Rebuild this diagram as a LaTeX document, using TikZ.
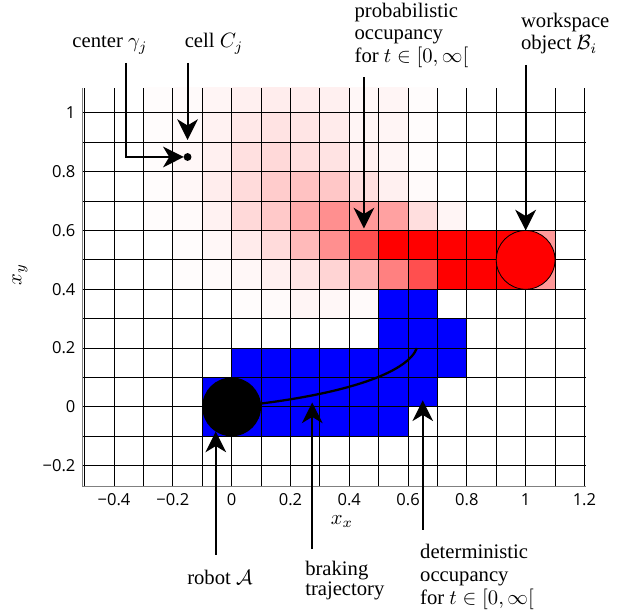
\documentclass[tikz,border=0pt]{standalone}
\usepackage{amssymb,amsmath}
\usepackage{fontspec}
\setmainfont{Liberation Serif}
\newfontfamily\tickfont{Open Sans}
\usetikzlibrary{arrows.meta}

\begin{document}
\begin{tikzpicture}[x=5cm,y=5cm,
  annot/.style={line width=1pt,-{Stealth[length=10pt,width=10pt,inset=3pt]}},
  lbl/.style={inner sep=0pt,font=\fontsize{10}{11.1}\selectfont,align=left},
  ticklbl/.style={inner sep=0pt,font=\tickfont\fontsize{8}{9}\selectfont},
  gridline/.style={line width=0.5pt,black}]
\useasboundingbox (-0.788,-0.704) rectangle (1.338,1.384);
% probabilistic occupancy (red shades), columns from -0.3
\begin{scope}
\clip (-0.508,-0.271) rectangle (1.207,1.085);
\foreach \yy/\vals in {
  1.0/{1,2,4,6,7,7,6,3,4,1},
  0.9/{1,2,5,9,11,10,8,4,4,1},
  0.8/{1,3,6,12,15,13,11,6,4,1},
  0.7/{1,3,7,14,20,24,22,12,6,2},
  0.6/{1,2,5,15,21,33,44,40,37,13,4},
  0.5/{0,1,3,8,14,27,44,69,100,100,100,100,100,40},
  0.4/{0,1,2,3,6,10,17,29,50,69,100,100,100,40},
  0.3/{0,0,0,1,2,4,3,2}}
  \foreach \p [count=\i] in \vals
    \fill[red!\p!white] ({-0.4+0.1*\i},\yy) rectangle ++(0.1,0.1);
% deterministic occupancy
\fill[blue] (-0.1,-0.1) -- (0.6,-0.1) -- (0.6,0) -- (0.7,0) -- (0.7,0.1) -- (0.8,0.1)
  -- (0.8,0.3) -- (0.7,0.3) -- (0.7,0.4) -- (0.5,0.4) -- (0.5,0.2) -- (0,0.2)
  -- (0,0.1) -- (-0.1,0.1) -- cycle;
\end{scope}
% grid
\foreach \k in {-5,...,12}
  \draw[gridline] (\k/10,-0.271) -- (\k/10,1.085);
\foreach \k in {-2,...,10}
  \draw[gridline] (-0.508,\k/10) -- (1.207,\k/10);
\draw[gray,line width=0.6pt] (-0.508,1.085) -- (-0.508,-0.271) -- (1.207,-0.271);
% object and robot
\coordinate (B) at (1,0.5);
\coordinate (R) at (0,0);
\coordinate (T) at (0.63,0.2);
\filldraw[fill=red,draw=black,line width=0.4pt] (B) circle (0.1);
\draw[line width=1.1pt] (R) .. controls (0.4,0.04) and (0.6,0.12) .. (T);
\fill[black] (R) circle (0.1);
% tick labels
\foreach \v/\t in {-0.4/−0.4,-0.2/−0.2,0/0,0.2/0.2,0.4/0.4,0.6/0.6,0.8/0.8,1/1,1.2/1.2}
  \node[ticklbl] (tx\t) at (\v,-0.316) {\t};
\foreach \v/\t in {-0.2/−0.2,0/0,0.2/0.2,0.4/0.4,0.6/0.6,0.8/0.8,1/1}
  \node[ticklbl,anchor=east] (ty\t) at (-0.53,\v) {\t};
\node (xlab) at (0.375,-0.39) {$x_x$};
\node[rotate=90] (ylab) at (-0.72,0.449) {$x_y$};
% labels (base = last line)
\node[lbl,anchor=base] (cen) at (-0.414,1.221) {center $\gamma_j$};
\node[lbl,anchor=base] (cel) at (-0.06,1.221) {cell $C_j$};
\node[lbl,anchor=base west] (prob) at (0.417,1.170) {probabilistic\\occupancy\\for $t\in[0,\infty[$};
\node[lbl,anchor=base west] (ws) at (0.983,1.214) {workspace\\object $\mathcal{B}_i$};
\node[lbl,anchor=base] (rob) at (-0.04,-0.605) {robot $\mathcal{A}$};
\node[lbl,anchor=base west,font=\fontsize{10}{9.8}\selectfont] (brk) at (0.249,-0.643) {braking\\trajectory};
\node[lbl,anchor=base west] (det) at (0.64,-0.673) {deterministic\\occupancy\\for $t\in[0,\infty[$};
% arrows
\coordinate (gam) at (-0.15,0.85);
\coordinate (cen0) at (-0.358,1.17);
\coordinate (cen1) at (-0.358,0.85);
\coordinate (cen2) at (-0.163,0.85);
\coordinate (cel0) at (-0.15,1.17);
\coordinate (cel1) at (-0.15,0.908);
\coordinate (prob0) at (0.45,1.122);
\coordinate (prob1) at (0.45,0.607);
\coordinate (ws0) at (1,1.163);
\coordinate (ws1) at (1,0.6);
\coordinate (rob0) at (-0.054,-0.503);
\coordinate (rob1) at (-0.054,-0.084);
\coordinate (brk0) at (0.274,-0.484);
\coordinate (brk1) at (0.274,0.015);
\coordinate (det0) at (0.65,-0.418);
\coordinate (det1) at (0.65,0.022);
\fill (gam) circle (1.9pt);
\draw[annot] (cen0) -- (cen1) -- (cen2);
\draw[annot] (cel0) -- (cel1);
\draw[annot] (prob0) -- (prob1);
\draw[annot] (ws0) -- (ws1);
\draw[annot] (rob0) -- (rob1);
\draw[annot] (brk0) -- (brk1);
\draw[annot] (det0) -- (det1);
\end{tikzpicture}
\end{document}
